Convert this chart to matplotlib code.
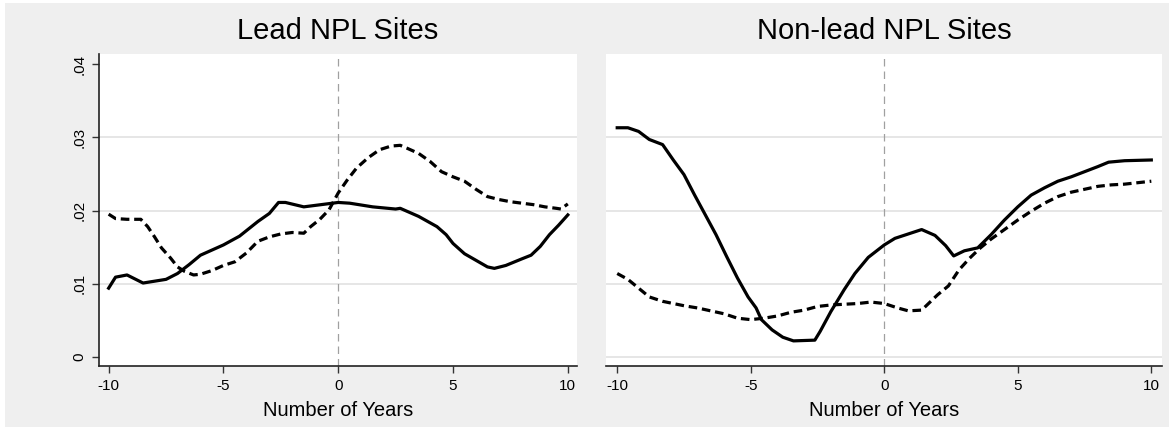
import numpy as np
import matplotlib
matplotlib.use("Agg")
import matplotlib.pyplot as plt
from matplotlib.patches import Rectangle

plt.rcParams["font.family"] = ["Liberation Sans", "DejaVu Sans"]

# lead NPL sites
lead_solid_x = [-10, -9.7, -9.2, -8.5, -7.5, -7, -6.5, -6, -5, -4.3, -3.5, -3, -2.6, -2.3,
                -1.5, -0.5, 0, 0.5, 1.5, 2.5, 2.7, 3.5, 4.3, 4.7, 5, 5.5, 6, 6.5, 6.8,
                7.3, 8, 8.4, 8.8, 9.2, 9.6, 10]
lead_solid_y = [0.0094, 0.0109, 0.0112, 0.0101, 0.0106, 0.0114, 0.0126, 0.0139, 0.0153,
                0.0165, 0.0185, 0.0196, 0.0211, 0.0211, 0.0205, 0.0209, 0.0211, 0.0210,
                0.0205, 0.0202, 0.0203, 0.0192, 0.0178, 0.0167, 0.0155, 0.0141, 0.0132,
                0.0123, 0.0121, 0.0125, 0.0134, 0.0139, 0.0151, 0.0167, 0.0180, 0.0194]

lead_dash_x = [-10, -9.7, -9.2, -8.6, -8.3, -8, -7.7, -7.3, -7, -6.7, -6.3, -6, -5.5, -5,
               -4.5, -4, -3.5, -3, -2.5, -2, -1.5, -1.2, -0.8, -0.4, 0, 0.4, 0.8, 1.3,
               1.8, 2.3, 2.7, 3, 3.5, 4, 4.5, 5, 5.5, 6, 6.5, 7, 7.5, 8, 8.5, 9, 9.5,
               9.7, 10]
lead_dash_y = [0.0195, 0.0189, 0.0188, 0.0188, 0.0178, 0.0164, 0.0149, 0.0135, 0.0123,
               0.0117, 0.0112, 0.0113, 0.0118, 0.0125, 0.0130, 0.0142, 0.0158, 0.0164,
               0.0168, 0.0170, 0.0169, 0.0178, 0.0188, 0.0201, 0.0224, 0.0242, 0.0258,
               0.0272, 0.0283, 0.0288, 0.0289, 0.0285, 0.0278, 0.0267, 0.0253, 0.0246,
               0.0240, 0.0229, 0.0219, 0.0215, 0.0212, 0.0210, 0.0208, 0.0205, 0.0203,
               0.0202, 0.0209]

# non-lead NPL sites
nonlead_solid_x = [-10, -9.6, -9.2, -8.8, -8.3, -7.9, -7.5, -7.1, -6.7, -6.3, -5.9, -5.5,
                   -5.1, -4.8, -4.6, -4.2, -3.8, -3.4, -2.6, -2.4, -2, -1.5, -1.1, -0.6,
                   0, 0.4, 1.4, 1.9, 2.3, 2.6, 3, 3.5, 4, 4.5, 5, 5.5, 6, 6.5, 7, 7.5,
                   8, 8.4, 9, 10]
nonlead_solid_y = [0.0313, 0.0313, 0.0308, 0.0297, 0.0290, 0.0269, 0.0249, 0.0221, 0.0194,
                   0.0167, 0.0137, 0.0108, 0.0082, 0.0067, 0.0051, 0.0037, 0.0027, 0.0022,
                   0.0023, 0.0035, 0.0062, 0.0092, 0.0114, 0.0136, 0.0153, 0.0162, 0.0174,
                   0.0166, 0.0152, 0.0138, 0.0145, 0.0149, 0.0167, 0.0187, 0.0205, 0.0221,
                   0.0231, 0.0240, 0.0246, 0.0253, 0.0260, 0.0266, 0.0268, 0.0269]

nonlead_dash_x = [-10, -9.6, -9.2, -8.8, -8.3, -7.5, -7, -6.5, -6, -5.5, -5, -4.5, -4, -3.5,
                  -3, -2.5, -2, -1.5, -1, -0.5, 0, 0.5, 0.9, 1.4, 2, 2.4, 2.8, 3.2, 3.6,
                  4, 4.5, 5, 5.5, 6, 6.5, 7, 7.5, 8, 8.5, 9, 9.5, 10]
nonlead_dash_y = [0.0114, 0.0106, 0.0094, 0.0082, 0.0076, 0.0070, 0.0067, 0.0063, 0.0059,
                  0.0053, 0.0051, 0.0053, 0.0056, 0.0061, 0.0064, 0.0069, 0.0071, 0.0072,
                  0.0073, 0.0075, 0.0073, 0.0067, 0.0063, 0.0064, 0.0085, 0.0097, 0.0119,
                  0.0135, 0.0149, 0.0161, 0.0174, 0.0187, 0.0199, 0.0210, 0.0219, 0.0225,
                  0.0229, 0.0233, 0.0235, 0.0236, 0.0238, 0.0240]

titles = ["Lead NPL Sites", "Non-lead NPL Sites"]
xticks = [-10, -5, 0, 5, 10]
yticks = [0, 0.01, 0.02, 0.03, 0.04]
ytick_labels = ["0", ".01", ".02", ".03", ".04"]

bg = "#efefef"
fig = plt.figure(figsize=(11.71, 4.30), dpi=100, facecolor="white")
fig.patches.append(Rectangle((5 / 1171, 3 / 430), 1164 / 1171, 424 / 430,
                             transform=fig.transFigure, facecolor=bg,
                             edgecolor="none", zorder=-10))

ax1 = fig.add_axes([99 / 1171, 1 - 366 / 430, 478 / 1171, 312 / 430])
ax2 = fig.add_axes([606 / 1171, 1 - 366 / 430, 556 / 1171, 312 / 430])

series = [
    (ax1, lead_solid_x, lead_solid_y, lead_dash_x, lead_dash_y),
    (ax2, nonlead_solid_x, nonlead_solid_y, nonlead_dash_x, nonlead_dash_y),
]

for i, (ax, sx, sy, dx, dy) in enumerate(series):
    ax.set_facecolor("white")
    ax.set_xlim(-10.42, 10.4)
    ax.set_ylim(-0.00123, 0.04137)

    # gridlines
    grid_levels = [0.01, 0.02, 0.03] if i == 0 else [0, 0.01, 0.02, 0.03]
    for g in grid_levels:
        ax.axhline(g, color="#e4e4e4", lw=1.3, zorder=1)

    ax.axvline(0, color="#a0a0a0", lw=0.9, ls=(0, (6, 4)), zorder=2)

    ax.plot(sx, sy, color="black", lw=2.3, solid_joinstyle="round", zorder=3)
    ax.plot(dx, dy, color="black", lw=2.3, ls=(0, (2.7, 1.5)), zorder=3)

    ax.set_xticks(xticks)
    ax.set_xticklabels([str(t) for t in xticks])
    ax.tick_params(axis="x", length=5, width=1, pad=4, labelsize=11,
                   color="#333333")

    for s in ["top", "right"]:
        ax.spines[s].set_visible(False)
    ax.spines["bottom"].set_linewidth(1.2)
    ax.spines["bottom"].set_color("#222222")

    if i == 0:
        ax.set_yticks(yticks)
        ax.set_yticklabels(ytick_labels, rotation=90, va="center")
        ax.tick_params(axis="y", length=5, width=1, pad=4, labelsize=11,
                       color="#333333")
        ax.spines["left"].set_linewidth(1.2)
        ax.spines["left"].set_color("#222222")
    else:
        ax.set_yticks([])
        ax.spines["left"].set_visible(False)

    ax.text(0.5, 1 + (54 - 31) / 312, titles[i], transform=ax.transAxes,
            ha="center", va="center", fontsize=21)
    ax.set_xlabel("Number of Years", fontsize=14.5, labelpad=6)

plt.savefig("out.png", dpi=100, facecolor=fig.get_facecolor())
